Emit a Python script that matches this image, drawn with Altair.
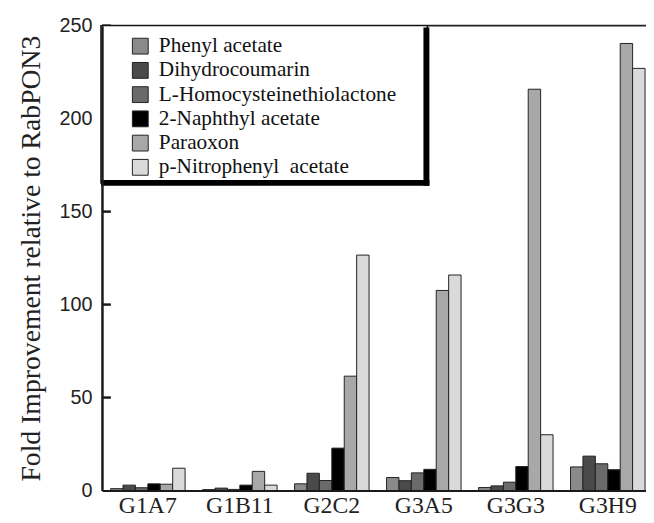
import altair as alt
import pandas as pd

groups = ["G1A7", "G1B11", "G2C2", "G3A5", "G3G3", "G3H9"]
substrates = [
    "Phenyl acetate",
    "Dihydrocoumarin",
    "L-Homocysteinethiolactone",
    "2-Naphthyl acetate",
    "Paraoxon",
    "p-Nitrophenyl\u00a0 acetate",
]
colors = ["#8a8a8a", "#4a4a4a", "#6a6a6a", "#000000", "#a8a8a8", "#dadada"]

phenyl = [1.0, 0.5, 3.6, 7.0, 1.6, 12.7]
dihydro = [2.9, 1.3, 9.3, 5.3, 2.5, 18.5]
lhomo = [1.5, 0.6, 5.4, 9.5, 4.5, 14.4]
naph = [3.6, 2.9, 22.8, 11.4, 12.9, 11.2]
paraoxon = [3.4, 10.3, 61.5, 107.6, 215.8, 240.4]
pnpa = [12.0, 2.9, 126.6, 115.9, 30.0, 227.0]

tick_values = [50, 100, 150, 200, 250]
axis_values = [0, 50, 100, 150, 200, 250]

series = [phenyl, dihydro, lhomo, naph, paraoxon, pnpa]
rows = []
for s, vals in zip(substrates, series):
    for g, v in zip(groups, vals):
        rows.append({"group": g, "substrate": s, "value": v})
df = pd.DataFrame(rows)

yscale = alt.Scale(domain=[0, 250], nice=False)
yaxis = alt.Axis(
    values=axis_values,
    ticks=False,
    grid=False,
    labelFont="Liberation Sans",
    labelFontSize=20,
    labelColor="#222222",
    labelPadding=10,
    title="Fold Improvement relative to RabPON3",
    titleFont="Liberation Serif",
    titleFontSize=28,
    titleFontWeight="normal",
    titleColor="#222222",
    titlePadding=14,
    domainColor="#1a1a1a",
    domainWidth=2.5,
    zindex=2,
)

bars = alt.Chart(df).mark_bar(stroke="#222222", strokeWidth=1).encode(
    x=alt.X(
        "group:N",
        sort=groups,
        scale=alt.Scale(paddingInner=0.19, paddingOuter=0.052, align=0.9),
        axis=alt.Axis(
            title=None,
            labelFont="Liberation Serif",
            labelFontSize=24,
            labelAngle=0,
            labelColor="#222222",
            ticks=False,
            domainColor="#1a1a1a",
            domainWidth=2,
            labelPadding=3,
            zindex=1,
        ),
    ),
    xOffset=alt.XOffset("substrate:N", sort=substrates),
    y=alt.Y("value:Q", scale=yscale, axis=yaxis),
    color=alt.Color(
        "substrate:N",
        sort=substrates,
        scale=alt.Scale(domain=substrates, range=colors),
        legend=alt.Legend(
            orient="none",
            legendX=28,
            legendY=10,
            title=None,
            symbolType="square",
            symbolSize=256,
            symbolStrokeColor="#222222",
            symbolStrokeWidth=1,
            symbolOpacity=1,
            labelFont="Liberation Serif",
            labelFontSize=21.5,
            labelColor="#111111",
            labelOffset=8,
            rowPadding=1.5,
            padding=0,
            labelLimit=400,
        ),
    ),
)

tick_df = pd.DataFrame({"tick": tick_values})
ticks = alt.Chart(tick_df).mark_rule(color="#1a1a1a", strokeWidth=2.5).encode(
    y=alt.Y("tick:Q", scale=yscale),
    x=alt.value(0),
    x2=alt.value(9),
)

one = pd.DataFrame({"a": [0]})
top_rule = alt.Chart(one).mark_rule(color="#222222", strokeWidth=2).encode(
    y=alt.datum(250),
)

box = alt.Chart(one).mark_rect(fill="white", stroke="#111111", strokeWidth=1.5).encode(
    x=alt.value(-1), x2=alt.value(329), y=alt.value(0), y2=alt.value(159)
)
shadow_right = alt.Chart(one).mark_rect(color="#000000").encode(
    x=alt.value(325), x2=alt.value(331), y=alt.value(2), y2=alt.value(162)
)
shadow_bottom = alt.Chart(one).mark_rect(color="#000000").encode(
    x=alt.value(-1), x2=alt.value(331), y=alt.value(156), y2=alt.value(162)
)

chart = (
    alt.layer(bars, ticks, top_rule, box, shadow_right, shadow_bottom)
    .properties(
        width=550,
        height=470,
        padding={"left": 95, "top": 15, "right": 0, "bottom": 30},
        autosize="none",
        background="white",
    )
    .configure_view(stroke=None)
)

chart.save("out.html", embed_options={"renderer": "svg", "actions": False})
